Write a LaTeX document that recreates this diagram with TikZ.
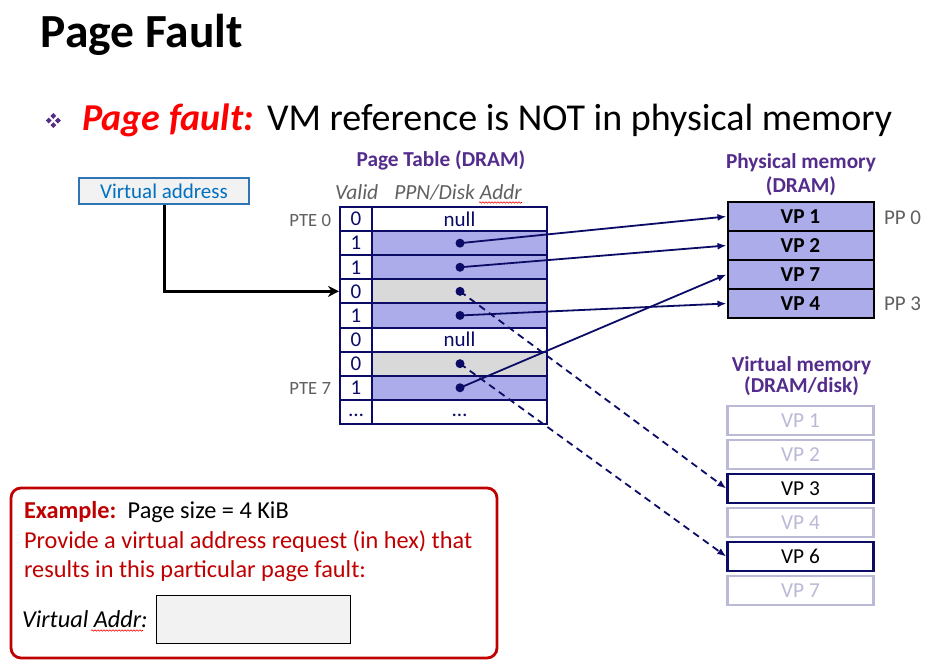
\documentclass[tikz,border=0pt]{standalone}
\usepackage{fontspec}
\setmainfont{Carlito}
\usetikzlibrary{arrows.meta,decorations.pathmorphing}

\definecolor{navy}{RGB}{12,12,102}
\definecolor{pagefill}{RGB}{172,172,234}
\definecolor{rowgray}{RGB}{217,217,217}
\definecolor{headpurple}{RGB}{84,44,140}
\definecolor{labelgray}{RGB}{96,96,96}
\definecolor{faded}{RGB}{186,186,214}
\definecolor{vablue}{RGB}{46,117,182}
\definecolor{vatext}{RGB}{0,112,192}
\definecolor{boxgray}{RGB}{242,242,242}
\definecolor{darkred}{RGB}{192,0,0}

\newcommand\setfs[1]{\fontsize{#1}{#1}\selectfont}

\tikzset{
  txt/.style={inner sep=0pt, outer sep=0pt},
  cell/.style={draw=navy, line width=2pt, minimum height=24.1pt, inner sep=0pt},
  vcell/.style={cell, minimum width=32pt, fill=white},
  pcell/.style={cell, minimum width=175pt},
  celltext/.style={txt, text=navy, font=\setfs{21}},
  ptrdot/.style={circle, fill=navy, minimum size=9pt, inner sep=0pt},
  pmcell/.style={draw=black, line width=2pt, fill=pagefill, minimum width=146pt,
                 minimum height=29pt, inner sep=0pt, font=\setfs{21.3}\bfseries},
  vmcell/.style={draw=faded, line width=2.5pt, minimum width=146pt,
                 minimum height=29pt, inner sep=0pt, text=faded, font=\setfs{21.3}},
  vmlive/.style={vmcell, draw=navy, text=black},
  heading/.style={txt, anchor=base, text=headpurple, font=\setfs{21.3}\bfseries},
  colhead/.style={txt, anchor=base, text=labelgray, font=\setfs{21.5}\itshape},
  sidelabel/.style={txt, text=labelgray},
  ptr/.style={draw=navy, line width=1.8pt, -{Latex[length=9pt,width=7pt]}},
  diskptr/.style={ptr, dash pattern=on 7pt off 5pt},
  spellmark/.style={draw=red, line width=0.6pt, decorate,
                    decoration={snake, amplitude=0.7pt, segment length=3pt}},
}

\begin{document}
\begin{tikzpicture}[x=1pt,y=-1pt]
\fill[white] (0,0) rectangle (946,664);
\useasboundingbox (0,0) rectangle (946,664);

% title and bullet line
\node[txt, anchor=base west, font=\setfs{47.5}\bfseries] (title) at (41,47) {Page Fault};
\foreach \dx/\dy in {-4.6/0, 4.6/0, 0/-4.6, 0/4.6}
  \fill[headpurple] (53.3+\dx-2.9,120.5+\dy) -- ++(2.9,-2.9) -- ++(2.9,2.9) -- ++(-2.9,2.9) -- cycle;
\node[txt, anchor=base west, text=red, font=\setfs{38}\bfseries\itshape] (pf) at (82,130) {Page fault:};
\node[txt, anchor=base west, font=\setfs{38}] (pfdef) at (267,130) {VM reference is NOT in physical memory};

% virtual address box
\node[draw=vablue, line width=1.2pt, fill=boxgray, minimum width=170pt, minimum height=26pt,
      inner sep=0pt, text=vatext, font=\setfs{21}] (va) at (164,191) {Virtual address};

% page table
\node[heading] (pthead) at (441,166) {Page Table (DRAM)};
\node[colhead] (validhd) at (356.7,199) {Valid};
\node[colhead] (ppnhd) at (458,199) {PPN/Disk Addr};
\draw[spellmark] (479,202.5) -- (522,202.5);

\foreach \i/\v/\p/\f/\s in {0/0/null/white/0, 1/1//pagefill/0, 2/1//pagefill/0,
                            3/0//rowgray/0, 4/1//pagefill/0, 5/0/null/white/0,
                            6/0//rowgray/0, 7/1//pagefill/0, 8/\dots/\dots/white/-4} {
  \node[vcell] (v\i) at (356, 207+24.1*\i+12.05) {};
  \node[pcell, fill=\f] (p\i) at (459.5, 207+24.1*\i+12.05) {};
  \node[celltext, yshift=\s pt] (vt\i) at (v\i.center) {\v};
  \node[celltext, yshift=\s pt] (pt\i) at (p\i.center) {\p};
}
\foreach \i in {1,2,3,4,6,7}
  \node[ptrdot] (d\i) at (460, 207+24.1*\i+12.05) {};

\node[sidelabel, anchor=base east, font=\setfs{18.7}] (pte0) at (331,226) {PTE 0};
\node[sidelabel, anchor=base east, font=\setfs{18.7}] (pte7) at (331,394.5) {PTE 7};

% physical memory
\node[heading] (pmhead1) at (801,168.5) {Physical memory};
\node[heading] (pmhead2) at (801,192.5) {(DRAM)};
\node[pmcell] (pm1) at (800.5,216.5) {VP 1};
\node[pmcell] (pm2) at (800.5,245.5) {VP 2};
\node[pmcell] (pm3) at (800.5,274.5) {VP 7};
\node[pmcell] (pm4) at (800.5,303.5) {VP 4};
\node[sidelabel, anchor=base west, font=\setfs{21}] (pp0) at (884,224.3) {PP 0};
\node[sidelabel, anchor=base west, font=\setfs{21}] (pp3) at (884,310.7) {PP 3};

% virtual memory
\node[heading] (vmhead1) at (801.5,371.7) {Virtual memory};
\node[heading] (vmhead2) at (801.5,392.3) {(DRAM/disk)};
\node[vmcell] (vm1) at (800.5,420.5) {VP 1};
\node[vmcell] (vm2) at (800.5,454.5) {VP 2};
\node[vmlive] (vm3) at (800.5,488.5) {VP 3};
\node[vmcell] (vm4) at (800.5,522.5) {VP 4};
\node[vmlive] (vm6) at (800.5,556.5) {VP 6};
\node[vmcell] (vm7) at (800.5,590.5) {VP 7};

% page table entries pointing into memory
\draw[ptr] (d1.center) -- (pm1.west);
\draw[ptr] (d2.center) -- (pm2.west);
\draw[ptr] (d4.center) -- (pm4.west);
\draw[ptr] (d7.center) -- (pm3.west);
\draw[diskptr] (d3.center) -- (vm3.west);
\draw[diskptr] (d6.center) -- (vm6.west);

% the faulting reference
\draw[line width=3pt, -{Stealth[length=11pt,width=11pt]}] (va.south) |- (v3.west);

% example box
\node[draw=darkred, line width=2.8pt, rounded corners=10pt, minimum width=486pt,
      minimum height=170pt, inner sep=0pt] (exbox) at (254,573) {};
\node[txt, anchor=base west, text=darkred, font=\setfs{24.3}\bfseries] (exlabel) at (24,518) {Example:};
\node[txt, anchor=base west, font=\setfs{24.3}] (exsize) at (127.7,518) {Page size = 4 KiB};
\node[txt, anchor=base west, text=darkred, font=\setfs{24.3}] (exline1) at (24,548) {Provide a virtual address request (in hex) that};
\node[txt, anchor=base west, text=darkred, font=\setfs{24.3}] (exline2) at (24,577) {results in this particular page fault:};
\node[txt, anchor=base west, font=\setfs{24.3}\itshape] (exaddr) at (22,627) {Virtual Addr:};
\draw[spellmark] (91,630.5) -- (143,630.5);
\node[draw=black, line width=1pt, fill=boxgray, minimum width=193.6pt, minimum height=47.6pt,
      inner sep=0pt] (answer) at (253.5,619.5) {};
\end{tikzpicture}
\end{document}
